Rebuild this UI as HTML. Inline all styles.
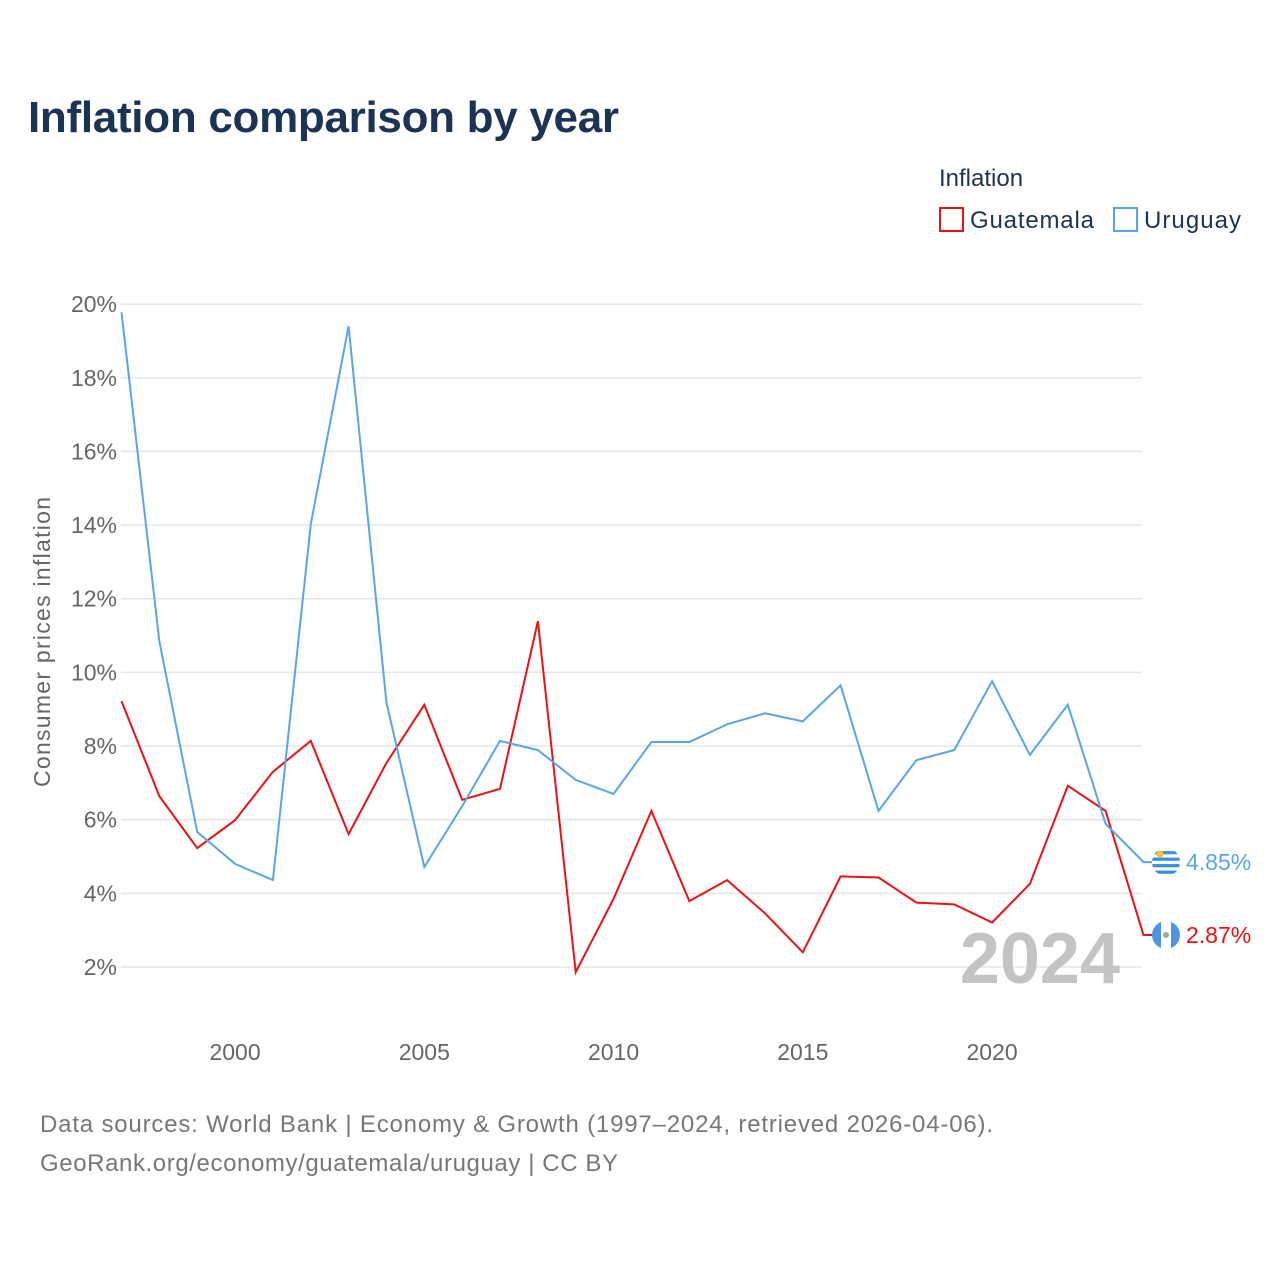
<!DOCTYPE html>
<html><head><meta charset="utf-8">
<style>
body{margin:0;background:#fff;font-family:"Liberation Sans",sans-serif;}
svg text{font-family:"Liberation Sans",sans-serif;}
</style></head>
<body>
<svg id="chart" width="1280" height="1280" viewBox="0 0 1280 1280">
<text x="28" y="132" font-size="44" font-weight="bold" fill="#1b3354" textLength="591">Inflation comparison by year</text>
<text x="939" y="186" font-size="24" fill="#1b3354">Inflation</text>
<g><rect x="940" y="208" width="23" height="23" fill="none" stroke="#ee1111" stroke-width="2"/><text x="970" y="228" font-size="24" fill="#1b3354" textLength="124">Guatemala</text></g>
<g><rect x="1114" y="208" width="23" height="23" fill="none" stroke="#5aa5ea" stroke-width="2"/><text x="1144" y="228" font-size="24" fill="#1b3354" textLength="97">Uruguay</text></g>
<g id="grid"></g><g id="yticks"></g><g id="xticks"></g>
<text transform="translate(50,642) rotate(-90)" text-anchor="middle" font-size="23" fill="#666" textLength="290">Consumer prices inflation</text>
<text x="1120" y="983" text-anchor="end" font-size="72" font-weight="bold" fill="#c4c4c4">2024</text>
<g id="series"></g>
<text x="40" y="1132" font-size="24" fill="#777" textLength="953">Data sources: World Bank | Economy &amp; Growth (1997–2024, retrieved 2026-04-06).</text>
<text x="40" y="1171" font-size="24" fill="#777" textLength="578">GeoRank.org/economy/guatemala/uruguay | CC BY</text>
</svg>
<script>
const years=[1997,1998,1999,2000,2001,2002,2003,2004,2005,2006,2007,2008,2009,2010,2011,2012,2013,2014,2015,2016,2017,2018,2019,2020,2021,2022,2023,2024];
const guatemala=[9.22,6.64,5.23,5.99,7.30,8.14,5.61,7.54,9.12,6.54,6.84,11.39,1.86,3.85,6.24,3.79,4.36,3.46,2.40,4.46,4.43,3.75,3.70,3.21,4.26,6.92,6.24,2.87];
const uruguay=[19.78,10.85,5.67,4.80,4.36,14.03,19.40,9.19,4.72,6.37,8.14,7.89,7.08,6.70,8.11,8.11,8.59,8.89,8.67,9.65,6.24,7.62,7.89,9.76,7.76,9.12,5.89,4.85];
const yTicks=[2,4,6,8,10,12,14,16,18,20];
const xTicks=[2000,2005,2010,2015,2020];
const NS="http://www.w3.org/2000/svg";
const x=v=>121.5+(v-1997)*37.85;
const y=v=>1040.7-v*36.83;
function mk(tag,attrs,parent){const e=document.createElementNS(NS,tag);for(const k in attrs)e.setAttribute(k,attrs[k]);parent.appendChild(e);return e;}
const grid=document.getElementById('grid'),yt=document.getElementById('yticks'),xt=document.getElementById('xticks'),ser=document.getElementById('series');
yTicks.forEach(t=>{
 const l=mk('line',{x1:121,x2:1142,y1:y(t),y2:y(t),stroke:'#e6e6e6','stroke-width':1.5},grid);
 
 
 const tx=mk('text',{x:117,y:y(t)+8,'text-anchor':'end','font-size':23,fill:'#666'},yt);
 tx.textContent=t+'%';
 
 
});
xTicks.forEach(t=>{
 const tx=mk('text',{x:x(t),y:1060,'text-anchor':'middle','font-size':23,fill:'#666'},xt);
 tx.textContent=t;
 
 
});
function draw(vals,color,name,vertical){
 let d=vals.map((v,i)=>(i?'L':'M')+x(years[i]).toFixed(1)+','+y(v).toFixed(1)).join(' ');
 const last=vals[vals.length-1];
 const cy=y(last);
 d+=' L1152,'+cy.toFixed(1);
 const p=mk('path',{d:d,fill:'none',stroke:color,'stroke-width':2},ser);
 
 
 const g=mk('g',{},ser);
 
 
 const cp=mk('clipPath',{id:'clip-'+name},g);
 mk('circle',{cx:1166,cy:cy,r:14},cp);
 const inner=mk('g',{'clip-path':'url(#clip-'+name+')'},g);
 mk('rect',{x:1152,y:cy-14,width:28,height:28,fill:'#fff'},inner);
 if(vertical){
  mk('rect',{x:1152,y:cy-14,width:9,height:28,fill:'#4a97e0'},inner);
  mk('rect',{x:1171,y:cy-14,width:9,height:28,fill:'#4a97e0'},inner);
  mk('circle',{cx:1166,cy:cy,r:3,fill:'#9a9'},inner);
 } else {
  for(let k=0;k<4;k++) mk('rect',{x:1152,y:cy-11+k*6.5,width:28,height:3.2,fill:'#3c8ee0'},inner);
  mk('circle',{cx:1160,cy:cy-8,r:3.5,fill:'#f5c518'},inner);
 }
 const tx=mk('text',{x:1186,y:cy+8,'font-size':23,fill:color},ser);
 tx.textContent=last.toFixed(2)+'%';
 
 
}
draw(guatemala,'#ee1111','guatemala',true);
draw(uruguay,'#5aa5ea','uruguay',false);
</script>
</body></html>
